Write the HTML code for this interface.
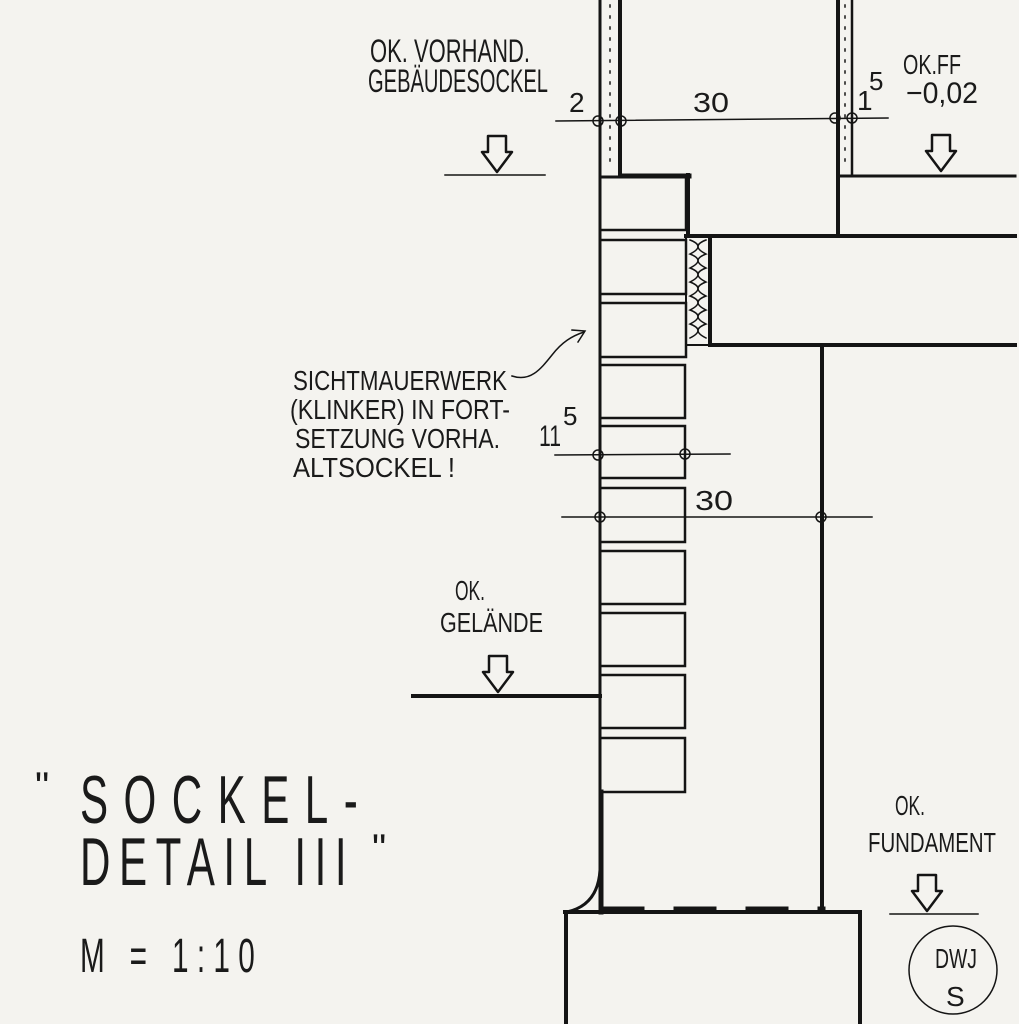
<!DOCTYPE html>
<html><head><style>
html,body{margin:0;padding:0;background:#f4f3ef;}
svg{display:block;}
text{font-family:"Liberation Sans Narrow","Liberation Sans",sans-serif;fill:#1a1a1a;}
</style></head><body>
<svg width="1019" height="1024" viewBox="0 0 1019 1024" xmlns="http://www.w3.org/2000/svg">
<rect width="1019" height="1024" fill="#f4f3ef"/>
<g stroke="#141414" fill="none" stroke-linecap="square">
<line x1="600" y1="0" x2="600" y2="912" stroke-width="3"/>
<line x1="620" y1="0" x2="620" y2="176" stroke-width="4"/>
<g stroke-width="1.5" stroke-dasharray="2 9"><line x1="610" y1="5" x2="610" y2="170"/></g>
<line x1="600" y1="177" x2="690" y2="177" stroke-width="3"/>
<line x1="620" y1="175" x2="690" y2="175" stroke-width="3"/>
<line x1="688" y1="175" x2="688" y2="236" stroke-width="4"/>
<g stroke-width="2.5">
<rect x="600" y="177" width="86" height="53"/>
<rect x="600" y="240" width="86" height="54"/>
<rect x="600" y="303" width="86" height="54"/>
<rect x="600" y="365" width="85" height="53"/>
<rect x="600" y="426" width="85" height="52"/>
<rect x="600" y="488" width="85" height="54"/>
<rect x="600" y="551" width="85" height="53"/>
<rect x="600" y="613" width="85" height="53"/>
<rect x="600" y="675" width="85" height="53"/>
<rect x="600" y="738" width="85" height="54"/>
</g>
<rect x="686" y="236" width="24" height="109" stroke-width="2"/>
<path d="M690 240 q16 6 0 14 q16 6 0 14 q16 6 0 14 q16 6 0 14 q16 6 0 14 q16 6 0 14 q16 6 0 14" stroke-width="1.5"/>
<path d="M706 240 q-16 6 0 14 q-16 6 0 14 q-16 6 0 14 q-16 6 0 14 q-16 6 0 14 q-16 6 0 14 q-16 6 0 14" stroke-width="1.5"/>
<line x1="710" y1="236" x2="710" y2="345" stroke-width="4"/>
<line x1="686" y1="236" x2="1015" y2="236" stroke-width="4"/>
<line x1="710" y1="345" x2="1015" y2="345" stroke-width="4"/>
<line x1="838" y1="0" x2="838" y2="236" stroke-width="4"/>
<line x1="852" y1="0" x2="852" y2="176" stroke-width="2.5"/>
<g stroke-width="1.5" stroke-dasharray="2 9"><line x1="845" y1="5" x2="845" y2="170"/></g>
<line x1="838" y1="176" x2="1015" y2="176" stroke-width="3"/>
<line x1="822" y1="345" x2="822" y2="912" stroke-width="4"/>
<line x1="601" y1="792" x2="601" y2="912" stroke-width="5"/>
<path d="M600 870 Q598 905 567 912" stroke-width="3"/>
<line x1="565" y1="912" x2="860" y2="912" stroke-width="4"/>
<line x1="603" y1="910" x2="822" y2="910" stroke-width="7" stroke-dasharray="36 36" stroke-dashoffset="-2"/>
<line x1="566" y1="912" x2="566" y2="1024" stroke-width="4"/>
<line x1="860" y1="912" x2="860" y2="1024" stroke-width="4"/>
<line x1="413" y1="696" x2="600" y2="696" stroke-width="4"/>
<g stroke-width="1.5">
<line x1="556" y1="121" x2="888" y2="118"/>
<line x1="555" y1="455" x2="730" y2="454"/>
<line x1="562" y1="517" x2="872" y2="517"/>
<circle cx="598" cy="121" r="5"/><circle cx="621" cy="121" r="5"/>
<circle cx="835" cy="118" r="5"/><circle cx="852" cy="118" r="5"/>
<circle cx="598" cy="455" r="5"/><circle cx="685" cy="454" r="5"/>
<circle cx="600" cy="517" r="5"/><circle cx="821" cy="517" r="5"/>
<line x1="445" y1="175" x2="545" y2="175"/>
<line x1="890" y1="914" x2="978" y2="914"/>
</g>
<g stroke-width="2.5" stroke-linejoin="round">
<path d="M488 136 h18 v16 h6 l-15 20 l-15 -20 h6 z"/>
<path d="M932 135 h18 v16 h6 l-15 20 l-15 -20 h6 z"/>
<path d="M489 656 h18 v16 h6 l-15 20 l-15 -20 h6 z"/>
<path d="M918 875 h18 v16 h6 l-15 20 l-15 -20 h6 z"/>
</g>
<path d="M512 376 C530 382 540 370 552 355 C562 342 572 336 584 332" stroke-width="1.5"/>
<path d="M572 330 L585 331 L578 342" stroke-width="1.5"/>
<circle cx="953" cy="970" r="44" stroke-width="1.5"/>
</g>
<text x="370" y="62" font-size="32" textLength="160" lengthAdjust="spacingAndGlyphs">OK. VORHAND.</text>
<text x="368" y="92" font-size="32" textLength="180" lengthAdjust="spacingAndGlyphs">GEBÄUDESOCKEL</text>
<text x="569" y="112" font-size="28">2</text>
<text x="693" y="112" font-size="28" textLength="36" lengthAdjust="spacingAndGlyphs">30</text>
<text x="857" y="110" font-size="28">1</text><text x="869" y="90" font-size="26">5</text>
<text x="903" y="74" font-size="28" textLength="58" lengthAdjust="spacingAndGlyphs">OK.FF</text>
<text x="906" y="103" font-size="30" textLength="72" lengthAdjust="spacingAndGlyphs">−0,02</text>
<text x="293" y="390" font-size="28" textLength="214" lengthAdjust="spacingAndGlyphs">SICHTMAUERWERK</text>
<text x="290" y="419" font-size="28" textLength="220" lengthAdjust="spacingAndGlyphs">(KLINKER) IN FORT-</text>
<text x="295" y="448" font-size="28" textLength="205" lengthAdjust="spacingAndGlyphs">SETZUNG VORHA.</text>
<text x="293" y="477" font-size="28" textLength="162" lengthAdjust="spacingAndGlyphs">ALTSOCKEL  !</text>
<text x="539" y="446" font-size="30" textLength="22" lengthAdjust="spacingAndGlyphs">11</text><text x="563" y="425" font-size="26">5</text>
<text x="695" y="510" font-size="28" textLength="38" lengthAdjust="spacingAndGlyphs">30</text>
<text x="455" y="600" font-size="28" textLength="30" lengthAdjust="spacingAndGlyphs">OK.</text>
<text x="440" y="632" font-size="28" textLength="103" lengthAdjust="spacingAndGlyphs">GELÄNDE</text>
<text x="895" y="815" font-size="28" textLength="30" lengthAdjust="spacingAndGlyphs">OK.</text>
<text x="868" y="852" font-size="28" textLength="128" lengthAdjust="spacingAndGlyphs">FUNDAMENT</text>
<text x="935" y="968" font-size="28" textLength="42" lengthAdjust="spacingAndGlyphs">DWJ</text>
<text x="946" y="1006" font-size="28">S</text>
<text x="35" y="800" font-size="40">"</text>
<g transform="scale(0.62,1)">
<text x="129" y="823" font-size="68" textLength="448" lengthAdjust="spacing">SOCKEL-</text>
<text x="129" y="885" font-size="68" textLength="430" lengthAdjust="spacing">DETAIL III</text>
<text x="129" y="972" font-size="48" textLength="282" lengthAdjust="spacing">M = 1:10</text>
</g>
<text x="372" y="862" font-size="40">"</text>
</svg>
</body></html>
